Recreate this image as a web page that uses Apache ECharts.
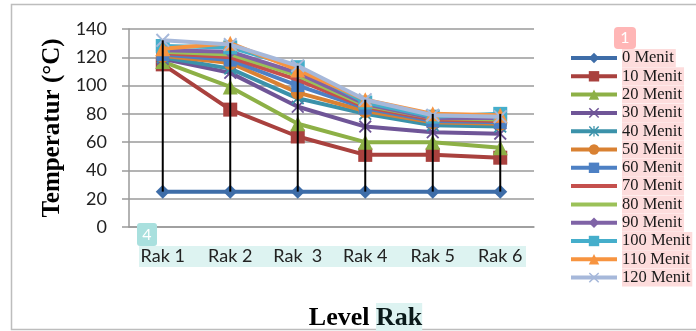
<!DOCTYPE html>
<html>
<head>
<meta charset="utf-8">
<script src="https://cdn.jsdelivr.net/npm/echarts@6/dist/echarts.min.js"></script>
<style>
  html, body { margin: 0; padding: 0; background: #ffffff; }
  #chart { width: 696px; height: 331px; }
</style>
</head>
<body>
<div id="chart"></div>
<script>
// Rack levels along the x axis
const categories = ['Rak 1', 'Rak 2', 'Rak  3', 'Rak 4', 'Rak 5', 'Rak 6'];
const yTicks = [0, 20, 40, 60, 80, 100, 120, 140];

// Temperature (°C) per rack, one list per drying time
const menit0   = [25, 25, 25, 25, 25, 25];
const menit10  = [115, 83, 64, 51, 51, 49];
const menit20  = [117, 99, 73, 60, 60, 56];
const menit30  = [119, 109, 85, 71, 67, 66];
const menit40  = [120, 112, 91, 80, 72, 71];
const menit50  = [121, 116, 95, 82, 74, 73];
const menit60  = [122, 118, 100, 84, 75, 74];
const menit70  = [123, 120, 104, 85, 76, 75];
const menit80  = [124, 122, 107, 86, 77, 76];
const menit90  = [125, 124, 109, 87, 77, 77];
const menit100 = [128, 127, 113, 88, 78, 80];
const menit110 = [126, 130, 111, 90, 80, 79];
const menit120 = [132, 129, 114, 90, 79, 78];

const seriesNames = ['0 Menit', '10 Menit', '20 Menit', '30 Menit', '40 Menit', '50 Menit',
  '60 Menit', '70 Menit', '80 Menit', '90 Menit', '100 Menit', '110 Menit', '120 Menit'];
const seriesValues = [menit0, menit10, menit20, menit30, menit40, menit50, menit60,
  menit70, menit80, menit90, menit100, menit110, menit120];

const crossPath = 'path://M0,1L1,0L5,4L9,0L10,1L6,5L10,9L9,10L5,6L1,10L0,9L4,5Z';
const starPath = 'path://M0,1L1,0L5,4L9,0L10,1L6,5L10,9L9,10L5,6L1,10L0,9L4,5Z M4.4,0L4.4,10L5.6,10L5.6,0Z';
const barPath = 'path://M4,0L6,0L6,10L4,10Z';
// plain line key for the series drawn without markers
const plainKey = 'path://M0,0L0.01,0L0,0.01Z M0,4.5L46,4.5L46,8.5L0,8.5Z M46,13L45.99,13L46,12.99Z';

const looks = [
  { color: '#3E6DA8', symbol: 'diamond', size: 14 },
  { color: '#A9413E', symbol: 'rect', size: 14 },
  { color: '#8DB046', symbol: 'triangle', size: 15 },
  { color: '#6F5597', symbol: crossPath, size: 13 },
  { color: '#3B92AA', symbol: starPath, size: 13 },
  { color: '#D98132', symbol: 'circle', size: 14 },
  { color: '#4D80C4', symbol: barPath, size: 13 },
  { color: '#C5504D', symbol: 'none', size: 0 },
  { color: '#9BC158', symbol: 'none', size: 0 },
  { color: '#7F63A6', symbol: 'diamond', size: 14 },
  { color: '#45AECB', symbol: 'rect', size: 14 },
  { color: '#F79440', symbol: 'triangle', size: 15 },
  { color: '#A6B8DA', symbol: crossPath, size: 14 }
];

const lineSeries = seriesNames.map((name, i) => ({
  name: name,
  type: 'line',
  data: seriesValues[i],
  symbol: looks[i].symbol,
  symbolSize: looks[i].size,
  showAllSymbol: true,
  lineStyle: { color: looks[i].color, width: 4 },
  itemStyle: { color: looks[i].color },
  emphasis: { disabled: true },
  z: 2 + i * 0.01
}));

const legendData = seriesNames.map((name, i) =>
  looks[i].symbol === 'none' ? { name: name, icon: plainKey } : { name: name });

// High-low lines: from the lowest to the highest reading at each rack
const highLow = categories.map((c, k) => {
  const col = seriesValues.map(s => s[k]);
  return [k, Math.min(...col), Math.max(...col)];
});

const chart = echarts.init(document.getElementById('chart'), null, { renderer: 'canvas' });
chart.setOption({
  animation: false,
  backgroundColor: '#ffffff',
  grid: { left: 129, right: 162, top: 29, bottom: 104, containLabel: false, outerBoundsMode: 'none' },
  xAxis: {
    type: 'category',
    data: categories,
    boundaryGap: true,
    axisLine: { lineStyle: { color: '#9a9a9a', width: 1.5 } },
    axisTick: { show: false },
    axisLabel: {
      fontFamily: 'Lato', fontSize: 18, color: '#222222', margin: 20, interval: 0
    },
    name: 'Level {h|Rak}',
    nameLocation: 'middle',
    nameGap: 76,
    nameTextStyle: {
      fontFamily: 'Liberation Serif', fontWeight: 'bold', fontSize: 26, color: '#000000',
      padding: [0, 0, 0, 68],
      rich: {
        h: {
          fontFamily: 'Liberation Serif', fontWeight: 'bold', fontSize: 26, color: '#0a1a1a',
          backgroundColor: '#DDF3F1', padding: [2, 0, 2, 0]
        }
      }
    }
  },
  yAxis: {
    type: 'value',
    min: yTicks[0],
    max: yTicks[yTicks.length - 1],
    interval: 20,
    axisLine: { show: true, lineStyle: { color: '#9a9a9a', width: 1.5 } },
    axisTick: { show: true, length: 7, lineStyle: { color: '#9a9a9a', width: 1.5 } },
    splitLine: { lineStyle: { color: '#9a9a9a', width: 1.5 } },
    axisLabel: { fontFamily: 'Lato', fontSize: 18, color: '#222222', margin: 22 },
    name: 'Temperatur (°C)',
    nameLocation: 'middle',
    nameRotate: 90,
    nameGap: 61,
    nameTextStyle: { fontFamily: 'Liberation Serif', fontWeight: 'bold', fontSize: 25, color: '#000000' }
  },
  legend: {
    data: legendData,
    orient: 'vertical',
    left: 569,
    top: 49,
    padding: 0,
    itemWidth: 46,
    itemHeight: 13,
    itemGap: 0.3,
    selectedMode: false,
    lineStyle: { width: 4 },
    textStyle: {
      fontFamily: 'Liberation Serif', fontSize: 16.5, color: '#1a1a1a',
      backgroundColor: '#FDDCDC', lineHeight: 18, padding: [0, 2, 0, 0]
    }
  },
  graphic: [
    // chart frame
    { type: 'rect', shape: { x: 11.5, y: 4.5, width: 700, height: 325 },
      style: { fill: 'none', stroke: '#bdbdbd', lineWidth: 1.5 }, z: -10 },
    // band behind the rack labels
    { type: 'rect', shape: { x: 139, y: 246, width: 387, height: 21 },
      style: { fill: '#DDF3F1' }, z: -5 },
    // numbered tags
    { type: 'rect', shape: { x: 614, y: 27, width: 22, height: 22, r: 4 },
      style: { fill: '#FFB6B6' }, z: 20 },
    { type: 'text', x: 625, y: 38, z: 21,
      style: { text: '1', fill: '#ffffff', font: '16px Lato', align: 'center', verticalAlign: 'middle' } },
    { type: 'rect', shape: { x: 137, y: 223, width: 20, height: 23, r: 3 },
      style: { fill: '#A9E0DE' }, z: 20 },
    { type: 'text', x: 147, y: 234.5, z: 21,
      style: { text: '4', fill: '#ffffff', font: '16px Lato', align: 'center', verticalAlign: 'middle' } }
  ],
  series: lineSeries.concat([{
    name: 'high-low',
    type: 'custom',
    data: highLow,
    z: 5,
    silent: true,
    renderItem: function (params, api) {
      const a = api.coord([api.value(0), api.value(1)]);
      const b = api.coord([api.value(0), api.value(2)]);
      return {
        type: 'line',
        shape: { x1: a[0], y1: a[1], x2: b[0], y2: b[1] },
        style: { stroke: '#000000', lineWidth: 2 }
      };
    },
    encode: { x: 0, y: [1, 2] }
  }])
});
</script>
</body>
</html>
